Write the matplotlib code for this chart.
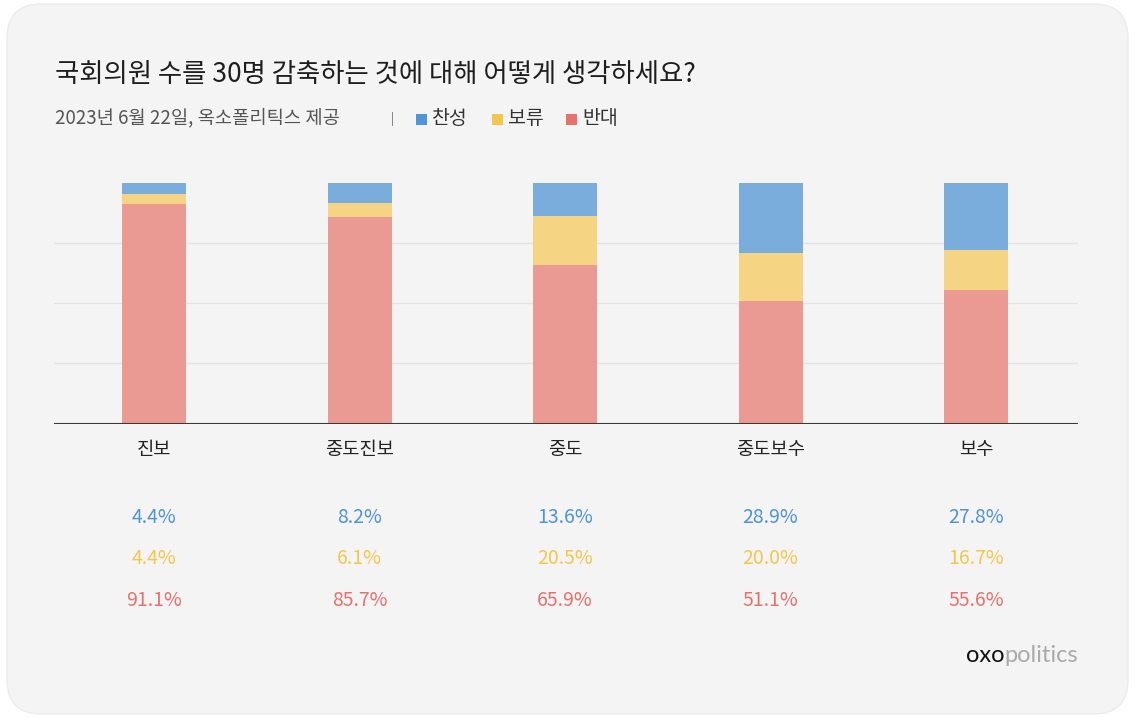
import matplotlib
matplotlib.use("Agg")
import matplotlib.pyplot as plt
from matplotlib.patches import FancyBboxPatch, Rectangle
import numpy as np

plt.rcParams['font.family'] = ['Noto Sans CJK KR', 'DejaVu Sans']

categories = ['진보', '중도진보', '중도', '중도보수', '보수']
agree = [4.4, 8.2, 13.6, 28.9, 27.8]      # 찬성
hold = [4.4, 6.1, 20.5, 20.0, 16.7]       # 보류
oppose = [91.1, 85.7, 65.9, 51.1, 55.6]   # 반대
series_names = ['찬성', '보류', '반대']

title = '국회의원 수를 30명 감축하는 것에 대해 어떻게 생각하세요?'
subtitle = '2023년 6월 22일, 옥소폴리틱스 제공'

bar_colors = {'찬성': '#7aaddc', '보류': '#f5d584', '반대': '#eb9a93'}
text_colors = {'찬성': '#4f93d8', '보류': '#f3c64e', '반대': '#e8716b'}

W, H = 1136, 718
fig = plt.figure(figsize=(W / 100, H / 100), dpi=100)
fig.patch.set_facecolor('white')

card = FancyBboxPatch((7 / W, 4 / H), (1121 / W), (710 / H),
                      boxstyle="round,pad=0,rounding_size=0.03",
                      transform=fig.transFigure, facecolor='#f4f4f4',
                      edgecolor='#ececec', linewidth=1, zorder=-5,
                      mutation_aspect=W / H)
fig.patches.append(card)

ax_left, ax_right = 54, 1078
first_center, step = 154, 205.5
ax = fig.add_axes([ax_left / W, (H - 423.5) / H, (ax_right - ax_left) / W, 240.5 / H])
ax.set_facecolor('none')
x = np.arange(len(categories))
bw = 64 / step
ax.bar(x, oppose, bw, color=bar_colors['반대'], zorder=3)
ax.bar(x, hold, bw, bottom=oppose, color=bar_colors['보류'], zorder=3)
ax.bar(x, agree, bw, bottom=np.array(oppose) + np.array(hold),
       color=bar_colors['찬성'], zorder=3)
xmin = -(first_center - ax_left) / step
ax.set_xlim(xmin, xmin + (ax_right - ax_left) / step)
ax.set_ylim(0, 100)
for g in (25, 50, 75):
    ax.axhline(g, color='#e4e4e4', linewidth=1, zorder=1)
ax.axhline(0, color='#3a3a3a', linewidth=1.5, zorder=4)
for s in ax.spines.values():
    s.set_visible(False)
ax.set_xticks([])
ax.set_yticks([])

tr = ax.get_xaxis_transform()
for i, c in enumerate(categories):
    ax.text(i, -0.108, c, transform=tr, ha='center', va='center',
            fontsize=13.5, color='#222222')
    for vals, name, yy in ((agree, '찬성', -0.392), (hold, '보류', -0.560),
                           (oppose, '반대', -0.736)):
        ax.text(i, yy, f'{vals[i]:.1f}%', transform=tr, ha='center',
                va='center', fontsize=14, color=text_colors[name])

fig.text(55 / W, 1 - 75 / H, title, ha='left', va='center',
         fontsize=19, color='#1e1e1e')
fig.text(55 / W, 1 - 119 / H, subtitle, ha='left', va='center',
         fontsize=13.5, color='#555555')
fig.text(392 / W, 1 - 119 / H, '|', ha='center', va='center',
         fontsize=9, color='#666666')
leg_x = [416, 492, 566]
for lx, name in zip(leg_x, series_names):
    fig.patches.append(Rectangle((lx / W, 1 - 125 / H), 11 / W, 11 / H,
                                 transform=fig.transFigure,
                                 facecolor=text_colors[name], edgecolor='none'))
    fig.text((lx + 16) / W, 1 - 119 / H, name, ha='left', va='center',
             fontsize=14, color='#333333')

t1 = fig.text(966 / W, 1 - 656 / H, 'oxo', ha='left', va='center',
              fontsize=17, color='#111111', family='Lato')
fig.canvas.draw()
bb = t1.get_window_extent()
fig.text(bb.x1 / W, 1 - 656 / H, 'politics', ha='left', va='center',
         fontsize=17, color='#aaaaaa', family='Lato')

fig.savefig('out.png', dpi=100, facecolor='white')
